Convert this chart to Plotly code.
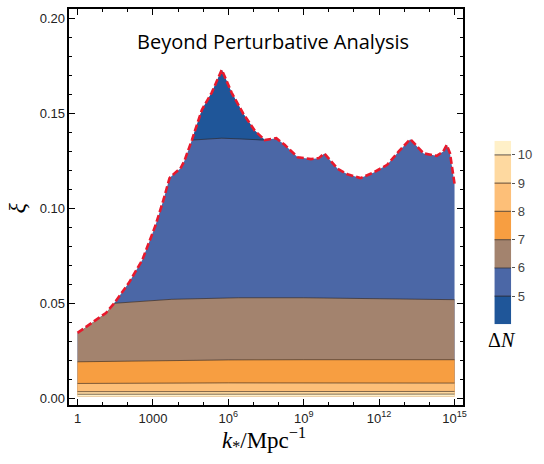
import numpy as np
import plotly.graph_objects as go

# Upper edge of the allowed region (red dashed curve): log10(k*/Mpc^-1) vs xi
top_logk = [0.0, 0.6, 1.13, 1.46, 2.05, 2.58, 3.1, 3.43, 3.66, 3.9, 4.09, 4.25, 4.42, 4.55,
            4.95, 5.34, 5.74, 6.13, 6.59, 7.05, 7.45, 7.91, 8.24, 8.76, 9.29, 9.6, 9.82,
            10.34, 10.74, 11.26, 11.79, 12.32, 12.78, 13.24, 13.77, 14.29, 14.55, 14.69,
            14.82, 15.0]
top_xi = [0.0345, 0.040, 0.045, 0.0501, 0.061, 0.073, 0.091, 0.105, 0.116, 0.119, 0.121,
          0.125, 0.131, 0.136, 0.152, 0.161, 0.173, 0.161, 0.150, 0.141, 0.136, 0.137,
          0.1335, 0.127, 0.126, 0.1265, 0.129, 0.121, 0.118, 0.116, 0.119, 0.123, 0.130,
          0.1365, 0.129, 0.1277, 0.130, 0.1335, 0.129, 0.113]

# Contour lines of Delta N (log10 k, xi)
c5_logk = [4.55, 5.0, 5.74, 6.5, 7.25, 7.45]
c5_xi = [0.1360, 0.1365, 0.1370, 0.1366, 0.1359, 0.1360]
c6_logk = [1.46, 2.5, 3.75, 6.4, 9.0, 12.0, 15.0]
c6_xi = [0.0501, 0.0512, 0.0522, 0.0530, 0.0530, 0.0525, 0.0520]
c7_logk = [0.0, 3.0, 6.0, 9.0, 12.0, 15.0]
c7_xi = [0.0193, 0.0198, 0.0203, 0.0204, 0.0204, 0.0204]
c8_logk = [0.0, 6.0, 15.0]
c8_xi = [0.0079, 0.0082, 0.0081]
c9_logk = [0.0, 15.0]
c9_xi = [0.0036, 0.0037]
c10_logk = [0.0, 15.0]
c10_xi = [0.0022, 0.0023]
xi_floor = 0.0012

# Delta N bands: colours and colorbar extent
band_lo = [4, 5, 6, 7, 8, 9, 10]
band_hi = [5, 6, 7, 8, 9, 10, 10.5]
band_colors = ["#1f5699", "#4b67a6", "#a3836e", "#f79e41", "#fdbf78", "#fed9a0", "#fff0c8"]
cbar_ticks = [5, 6, 7, 8, 9, 10]

x_tickvals = [1, 1e3, 1e6, 1e9, 1e12, 1e15]
x_ticktext = ["1", "1000", "10<sup>6</sup>", "10<sup>9</sup>", "10<sup>12</sup>", "10<sup>15</sup>"]
y_tickvals = [0.0, 0.05, 0.10, 0.15, 0.20]
y_ticktext = ["0.00", "0.05", "0.10", "0.15", "0.20"]

line_col = "rgba(45,35,30,0.6)"


def k(logs):
    return list(np.power(10.0, np.asarray(logs, dtype=float)))


def below(logs, xis, color):
    xs = k(logs)
    return go.Scatter(x=xs + xs[::-1], y=list(xis) + [xi_floor] * len(xs),
                      fill="toself", fillcolor=color, mode="none",
                      hoverinfo="skip", showlegend=False)


fig = go.Figure()

# 5 < dN < 6 under the whole boundary
fig.add_trace(below(top_logk, top_xi, band_colors[1]))

# 4 < dN < 5 : between contour 5 and the upper boundary
sel = [i for i, v in enumerate(top_logk) if c5_logk[0] <= v <= c5_logk[-1]]
dx = k([top_logk[i] for i in sel]) + k(c5_logk)[::-1]
dy = [top_xi[i] for i in sel] + c5_xi[::-1]
fig.add_trace(go.Scatter(x=dx, y=dy, fill="toself", fillcolor=band_colors[0], mode="none",
                         hoverinfo="skip", showlegend=False))

# 6 < dN < 7 : boundary on the left, then contour 6
sel6 = [i for i, v in enumerate(top_logk) if v < c6_logk[0]]
b_logk = [top_logk[i] for i in sel6] + c6_logk
b_xi = [top_xi[i] for i in sel6] + c6_xi
fig.add_trace(below(b_logk, b_xi, band_colors[2]))
fig.add_trace(below(c7_logk, c7_xi, band_colors[3]))
fig.add_trace(below(c8_logk, c8_xi, band_colors[4]))
fig.add_trace(below(c9_logk, c9_xi, band_colors[5]))
fig.add_trace(below(c10_logk, c10_xi, band_colors[6]))

# contour lines
for lk, lx in [(c5_logk, c5_xi), (c6_logk, c6_xi), (c7_logk, c7_xi),
               (c8_logk, c8_xi), (c9_logk, c9_xi), (c10_logk, c10_xi)]:
    fig.add_trace(go.Scatter(x=k(lk), y=lx, mode="lines",
                             line=dict(color=line_col, width=1),
                             hoverinfo="skip", showlegend=False))

# upper boundary
fig.add_trace(go.Scatter(x=k(top_logk), y=top_xi, mode="lines",
                         line=dict(color="#e8192c", width=2.6, dash="7px,3px"),
                         hoverinfo="skip", showlegend=False))

# colorbar as stacked bars, with separators at the contour levels
fig.add_trace(go.Bar(x=[0] * len(band_lo), y=[h - l for l, h in zip(band_lo, band_hi)],
                     base=band_lo, width=1, marker=dict(color=band_colors, line=dict(width=0)),
                     xaxis="x2", yaxis="y2", hoverinfo="skip", showlegend=False))
sep_x, sep_y = [], []
for lv in band_lo[1:]:
    sep_x += [-0.5, 0.5, None]
    sep_y += [lv, lv, None]
fig.add_trace(go.Scatter(x=sep_x, y=sep_y, mode="lines", line=dict(color=line_col, width=1.2),
                         xaxis="x2", yaxis="y2", hoverinfo="skip", showlegend=False))

W, H = 544, 464
axis_common = dict(showline=True, linecolor="black", linewidth=1.6, mirror="allticks",
                   ticks="inside", tickcolor="black", tickwidth=1, ticklen=6,
                   showgrid=False, zeroline=False,
                   tickfont=dict(family="Liberation Sans, Arial", size=13, color="#222"))

fig.update_layout(
    width=W, height=H, margin=dict(l=0, r=0, t=0, b=0),
    paper_bgcolor="white", plot_bgcolor="white",
    barmode="overlay",
    xaxis=dict(type="log", range=[-0.32, 15.32], domain=[70 / W, 466 / W],
               tickmode="array", tickvals=x_tickvals, ticktext=x_ticktext,
               minor=dict(tickvals=[10.0 ** e for e in range(16) if e % 3], ticklen=3,
                          tickcolor="black", ticks="inside"),
               **axis_common),
    yaxis=dict(range=[-0.0035, 0.205], domain=[1 - 406 / H, 1 - 9 / H],
               tickmode="array", tickvals=y_tickvals, ticktext=y_ticktext,
               minor=dict(dtick=0.01, ticklen=3, tickcolor="black", ticks="inside"),
               **axis_common),
    xaxis2=dict(domain=[498 / W, 515 / W], range=[-0.5, 0.5], visible=False, anchor="y2"),
    yaxis2=dict(domain=[1 - 325 / H, 1 - 141 / H], range=[4, 10.5], anchor="x2",
                side="right", showgrid=False, zeroline=False, showline=False,
                ticks="outside", ticklen=3, tickcolor="#555", tickvals=cbar_ticks,
                tickfont=dict(family="Liberation Sans, Arial", size=13, color="#444")),
    annotations=[
        dict(text="Beyond Perturbative Analysis", x=275 / W, y=1 - 42 / H, xref="paper",
             yref="paper", showarrow=False, xanchor="center", yanchor="middle",
             font=dict(family="Open Sans", size=20, color="black")),
        dict(text="<i>k</i><sub>*</sub>/Mpc<sup>−1</sup>", x=266 / W, y=1 - 440 / H,
             xref="paper", yref="paper", showarrow=False, xanchor="center", yanchor="middle",
             font=dict(family="Liberation Serif, Times New Roman", size=23, color="black")),
        dict(text="<i>ξ</i>", x=17 / W, y=1 - 208 / H, xref="paper", yref="paper",
             showarrow=False, textangle=-90, xanchor="center", yanchor="middle",
             font=dict(family="Liberation Serif, Times New Roman", size=24, color="black")),
        dict(text="Δ<i>N</i>", x=506 / W, y=1 - 341 / H, xref="paper", yref="paper",
             showarrow=False, xanchor="center", yanchor="middle",
             font=dict(family="Liberation Serif, Times New Roman", size=20, color="black")),
    ],
)

fig.write_html("out.html")
